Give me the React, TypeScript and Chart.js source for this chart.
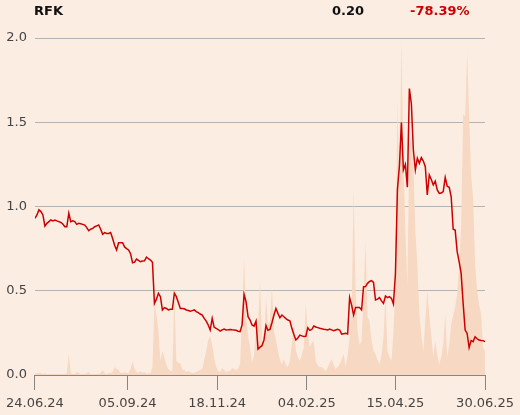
import React, { useEffect, useRef } from "react";
import { Chart, registerables } from "chart.js";

Chart.register(...registerables);

// ---- header ----
const symbol = "RFK";
const lastPrice = "0.20";
const changePct = "-78.39%";

// ---- x axis: trading-day index, tick labels ----
const tickDays = [0, 46.5, 91.5, 136.5, 181, 226];
const tickLabels = ["24.06.24", "05.09.24", "18.11.24", "04.02.25", "15.04.25", "30.06.25"];

// ---- y axis ----
const yTicks = [0, 0.5, 1.0, 1.5, 2.0];

// ---- price (one value per trading day index 0..226) ----
const priceValues = [
  0.93, 0.95, 0.98, 0.97, 0.95, 0.884, 0.9, 0.91, 0.92, 0.915,
  0.92, 0.915, 0.91, 0.905, 0.896, 0.88, 0.88, 0.96, 0.91, 0.915,
  0.91, 0.894, 0.9, 0.898, 0.894, 0.89, 0.875, 0.856, 0.865, 0.87,
  0.88, 0.885, 0.89, 0.865, 0.835, 0.845, 0.84, 0.84, 0.845, 0.81,
  0.77, 0.742, 0.785, 0.785, 0.785, 0.76, 0.75, 0.742, 0.72, 0.666,
  0.67, 0.688, 0.68, 0.672, 0.676, 0.678, 0.7, 0.69, 0.682, 0.669,
  0.425, 0.45, 0.485, 0.465, 0.386, 0.4, 0.395, 0.386, 0.39, 0.39,
  0.485, 0.465, 0.43, 0.395, 0.395, 0.393, 0.386, 0.383, 0.378, 0.382,
  0.386, 0.376, 0.37, 0.362, 0.356, 0.336, 0.32, 0.297, 0.267, 0.336,
  0.283, 0.277, 0.27, 0.261, 0.268, 0.273, 0.267, 0.268, 0.27, 0.268,
  0.267, 0.265, 0.26, 0.257, 0.297, 0.479, 0.435, 0.346, 0.326, 0.297,
  0.29, 0.32, 0.154, 0.165, 0.174, 0.208, 0.293, 0.265, 0.27, 0.31,
  0.356, 0.395, 0.366, 0.34, 0.356, 0.346, 0.335, 0.326, 0.322, 0.277,
  0.24, 0.208, 0.22, 0.237, 0.232, 0.228, 0.23, 0.281, 0.265, 0.27,
  0.291, 0.285, 0.281, 0.277, 0.274, 0.271, 0.27, 0.267, 0.273, 0.268,
  0.263, 0.267, 0.271, 0.267, 0.243, 0.245, 0.247, 0.243, 0.46, 0.415,
  0.356, 0.4, 0.4, 0.4, 0.386, 0.524, 0.525, 0.544, 0.555, 0.56,
  0.55, 0.445, 0.45, 0.459, 0.44, 0.425, 0.469, 0.459, 0.465, 0.455,
  0.421, 0.6, 1.1, 1.24, 1.5, 1.217, 1.25, 1.114, 1.7, 1.61,
  1.335, 1.217, 1.286, 1.256, 1.29, 1.27, 1.236, 1.068, 1.187, 1.16,
  1.128, 1.15, 1.098, 1.078, 1.08, 1.088, 1.173, 1.12, 1.114, 1.058,
  0.865, 0.86, 0.732, 0.672, 0.603, 0.425, 0.267, 0.247, 0.162, 0.204,
  0.198, 0.227, 0.215, 0.208, 0.205, 0.204, 0.198,
];

// ---- volume (thousands of shares, same day index) ----
const volumeValues = [
  10, 20, 20, 20, 10, 20, 10, 10, 10, 10,
  10, 10, 10, 10, 10, 10, 20, 210, 20, 10,
  10, 30, 20, 10, 10, 10, 20, 30, 10, 10,
  10, 10, 10, 20, 50, 20, 10, 20, 20, 30,
  80, 60, 50, 20, 20, 30, 20, 20, 60, 140,
  60, 30, 20, 40, 20, 30, 10, 20, 20, 80,
  720, 600, 450, 140, 240, 170, 100, 60, 40, 40,
  800, 140, 120, 120, 50, 50, 30, 40, 30, 20,
  20, 30, 40, 50, 60, 150, 240, 350, 390, 300,
  170, 80, 40, 30, 70, 50, 30, 40, 40, 70,
  60, 50, 60, 110, 600, 1170, 600, 390, 280, 120,
  200, 450, 500, 940, 350, 280, 780, 500, 540, 880,
  440, 350, 240, 150, 110, 160, 100, 80, 150, 310,
  540, 240, 180, 140, 200, 280, 720, 400, 280, 320,
  340, 140, 100, 80, 80, 60, 40, 80, 120, 160,
  100, 60, 80, 110, 150, 210, 80, 200, 380, 600,
  1860, 840, 440, 300, 340, 800, 1340, 580, 540, 350,
  240, 210, 150, 110, 200, 380, 780, 240, 180, 140,
  440, 880, 2760, 1780, 3360, 2110, 1440, 910, 2300, 2400,
  2110, 1440, 1110, 610, 400, 240, 540, 840, 600, 400,
  180, 340, 200, 110, 180, 310, 610, 180, 300, 510,
  600, 680, 810, 1110, 1500, 2610, 2580, 3230, 2600, 2000,
  1780, 1110, 850, 700, 610, 280, 240,
];

const BG = "#FCEDE2";
const FONT = "'DejaVu Sans', sans-serif";

const headerPlugin = {
  id: "header",
  afterDraw(chart: any) {
    const ctx = chart.ctx;
    ctx.save();
    ctx.font = `bold 13px ${FONT}`;
    ctx.textBaseline = "alphabetic";
    ctx.textAlign = "left";
    ctx.fillStyle = "#111111";
    ctx.fillText(symbol, 34, 14.5);
    ctx.fillText(lastPrice, 332, 14.5);
    ctx.fillStyle = "#CC0000";
    ctx.fillText(changePct, 410, 14.5);
    ctx.restore();
  },
};

export default function App() {
  const ref = useRef<HTMLCanvasElement | null>(null);

  useEffect(() => {
    document.body.style.margin = "0";
    document.body.style.background = BG;
    const canvas = ref.current;
    if (!canvas) return;

    const priceData = priceValues.map((v, i) => ({ x: i, y: v }));
    const volumeData = volumeValues.map((v, i) => ({ x: i, y: v }));

    const chart = new Chart(canvas, {
      type: "line",
      data: {
        datasets: [
          {
            label: "Price",
            data: priceData,
            yAxisID: "y",
            borderColor: "#CC0000",
            borderWidth: 1.5,
            pointRadius: 0,
            tension: 0,
            fill: false,
            order: 1,
          },
          {
            label: "Volume",
            data: volumeData,
            yAxisID: "yv",
            borderColor: "rgba(0,0,0,0)",
            borderWidth: 0,
            backgroundColor: "#F7D9C3",
            pointRadius: 0,
            tension: 0,
            fill: "origin",
            order: 2,
          },
        ],
      },
      options: {
        animation: false,
        responsive: false,
        maintainAspectRatio: false,
        layout: { padding: { top: 38, right: 34, left: 0, bottom: 0 } },
        plugins: {
          legend: { display: false },
          tooltip: { enabled: false },
          title: { display: false },
        },
        scales: {
          x: {
            type: "linear",
            min: 0,
            max: 226,
            afterBuildTicks: (scale: any) => {
              scale.ticks = tickDays.map((v) => ({ value: v }));
            },
            afterFit: (scale: any) => {
              scale.height = 40;
            },
            ticks: {
              autoSkip: false,
              maxRotation: 0,
              minRotation: 0,
              padding: 6,
              color: "#444444",
              font: { family: FONT, size: 13 },
              callback: (value: any) => {
                const idx = tickDays.indexOf(Number(value));
                return idx >= 0 ? tickLabels[idx] : "";
              },
            },
            grid: {
              drawOnChartArea: false,
              drawTicks: true,
              tickLength: 15,
              color: "#858585",
              lineWidth: 1,
            },
            border: { display: true, color: "#858585", width: 1 },
          },
          y: {
            type: "linear",
            position: "left",
            min: 0,
            max: 2,
            afterBuildTicks: (scale: any) => {
              scale.ticks = yTicks.map((v) => ({ value: v }));
            },
            afterFit: (scale: any) => {
              scale.width = 34;
            },
            ticks: {
              padding: 8,
              color: "#444444",
              font: { family: FONT, size: 13 },
              callback: (value: any) => Number(value).toFixed(1),
            },
            grid: {
              drawTicks: false,
              color: "#B3B3B3",
              lineWidth: 1,
            },
            border: { display: false },
          },
          yv: {
            type: "linear",
            display: false,
            min: 0,
            max: 3370,
          },
        },
      },
      plugins: [headerPlugin],
    });

    return () => chart.destroy();
  }, []);

  return (
    <div style={{ width: 520, height: 415, background: BG, position: "relative" }}>
      <canvas ref={ref} width={520} height={415} style={{ display: "block" }} />
    </div>
  );
}
